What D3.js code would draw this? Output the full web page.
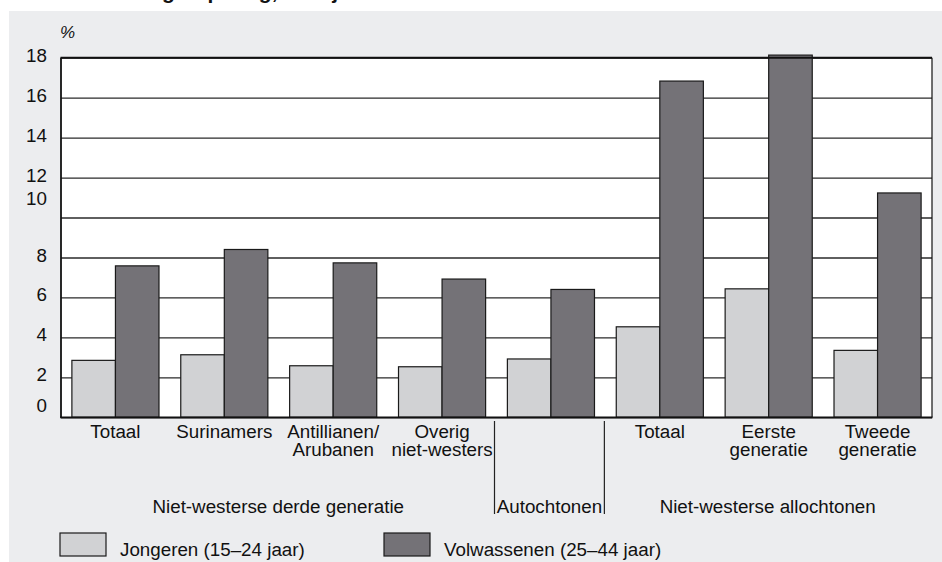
<!DOCTYPE html>
<html>
<head>
<meta charset="utf-8">
<script src="https://cdn.jsdelivr.net/npm/d3@7/dist/d3.min.js"></script>
<style>
	body { margin: 0; background: #fff; }
	svg { display: block; font-family: "Liberation Sans", Arial, Helvetica, sans-serif; }
</style>
</head>
<body>
<svg id="chart" width="942" height="562"></svg>
<script>

// Categories ('\n' = line break in the label).
var categories = [ 'Totaal', 'Surinamers', 'Antillianen/\nArubanen', 'Overig\nniet-westers', '', 'Totaal', 'Eerste\ngeneratie', 'Tweede\ngeneratie' ];

// Werkloosheid in %.
var jongeren = [ 2.85, 3.13, 2.58, 2.53, 2.92, 4.53, 6.43, 3.35 ];
var volwassenen = [ 7.58, 8.4, 7.73, 6.92, 6.4, 16.83, 18.13, 11.23 ];

var seriesNames = [ 'Jongeren (15\u201324 jaar)', 'Volwassenen (25\u201344 jaar)' ];

// Group labels under the categories, with first / last category index.
var groupLabels = [ 'Niet-westerse derde generatie', 'Autochtonen', 'Niet-westerse allochtonen' ];
var groupFirst = [ 0, 4, 5 ];
var groupLast = [ 3, 4, 7 ];

var yTicks = [ 0, 2, 4, 6, 8, 10, 12, 14, 16, 18 ];
var yUnit = '%';

var titleText = 'Werkloosheid naar herkomstgroepering, leeftijd';

var colors = [ '#d1d2d4', '#747277' ];

var viz = {
	plot: { left: 61, right: 932, top: 57.7, bottom: 417.3 },
	font: 18.8
};

var svg = d3.select( '#chart' );

// Grey panel behind the chart.
svg.append( 'rect' )
	.attr( 'x', 9 ).attr( 'y', 11 )
	.attr( 'width', 942 - 9 ).attr( 'height', 562 - 11 )
	.attr( 'fill', '#ecedef' );

// Title, cut off by the top of the picture: only descenders show.
var title = svg.append( 'text' )
	.attr( 'x', 0 ).attr( 'y', -1.5 )
	.attr( 'font-size', 21 ).attr( 'font-weight', 'bold' )
	.attr( 'fill', '#111' )
	.text( titleText );
var gIndex = titleText.indexOf( 'groep' );
title.attr( 'x', 162 - title.node().getStartPositionOfChar( gIndex ).x );

var x = d3.scaleBand()
	.domain( d3.range( categories.length ) )
	.range( [ viz.plot.left, viz.plot.right ] )
	.paddingInner( 0.2 )
	.paddingOuter( 0.1 );

var xs = d3.scaleBand()
	.domain( [ 0, 1 ] )
	.range( [ 0, x.bandwidth() ] );

var y = d3.scaleLinear()
	.domain( [ 0, 18 ] )
	.range( [ viz.plot.bottom, viz.plot.top ] );

// White plot area.
svg.append( 'rect' )
	.attr( 'x', viz.plot.left ).attr( 'y', viz.plot.top )
	.attr( 'width', viz.plot.right - viz.plot.left )
	.attr( 'height', viz.plot.bottom - viz.plot.top )
	.attr( 'fill', '#fff' );

// Gridlines + tick labels.
var axis = svg.append( 'g' )
	.attr( 'transform', 'translate(' + viz.plot.left + ',0)' )
	.call( d3.axisLeft( y )
		.tickValues( yTicks )
		.tickSize( -( viz.plot.right - viz.plot.left ) )
		.tickPadding( 14 )
		.tickFormat( d3.format( 'd' ) ) );
axis.select( '.domain' ).remove();
axis.selectAll( '.tick line' )
	.attr( 'stroke', '#2a2a2a' )
	.attr( 'stroke-width', 1.3 );
// The labels in the original are not all centred on their line.
var labelShift = { 10: -19, 0: -12 };
axis.selectAll( '.tick text' )
	.attr( 'font-size', viz.font )
	.attr( 'font-family', null )
	.attr( 'fill', '#111' )
	.attr( 'dy', function ( d ) {
		return ( 0.32 * viz.font + ( labelShift[d] !== undefined ? labelShift[d] : -2.5 ) ) + 'px';
	} );

svg.append( 'text' )
	.attr( 'x', viz.plot.left - 1 ).attr( 'y', 38 )
	.attr( 'font-size', 17 ).attr( 'font-style', 'italic' )
	.attr( 'fill', '#111' )
	.text( yUnit );

// Bars.
var barGroups = svg.selectAll( '.cat' )
	.data( categories )
	.enter()
	.append( 'g' )
	.attr( 'class', 'cat' )
	.attr( 'transform', function ( d, i ) {
		return 'translate(' + x( i ) + ',0)';
	} );

barGroups.selectAll( 'rect' )
	.data( function ( d, i ) {
		return [ jongeren[i], volwassenen[i] ];
	} )
	.enter()
	.append( 'rect' )
	.attr( 'x', function ( d, j ) { return xs( j ); } )
	.attr( 'y', function ( d ) { return y( d ); } )
	.attr( 'width', xs.bandwidth() )
	.attr( 'height', function ( d ) { return y( 0 ) - y( d ); } )
	.attr( 'fill', function ( d, j ) { return colors[j]; } )
	.attr( 'stroke', '#1a1a1a' )
	.attr( 'stroke-width', 1.2 );

// Frame: thick top, left and bottom, thin right.
svg.append( 'line' )
	.attr( 'x1', viz.plot.left - 0.5 ).attr( 'x2', viz.plot.right )
	.attr( 'y1', viz.plot.top ).attr( 'y2', viz.plot.top )
	.attr( 'stroke', '#111' ).attr( 'stroke-width', 2 );
svg.append( 'line' )
	.attr( 'x1', viz.plot.left ).attr( 'x2', viz.plot.left )
	.attr( 'y1', viz.plot.top ).attr( 'y2', viz.plot.bottom )
	.attr( 'stroke', '#111' ).attr( 'stroke-width', 1.8 );
svg.append( 'line' )
	.attr( 'x1', viz.plot.left - 0.9 ).attr( 'x2', viz.plot.right + 0.5 )
	.attr( 'y1', viz.plot.bottom ).attr( 'y2', viz.plot.bottom )
	.attr( 'stroke', '#111' ).attr( 'stroke-width', 1.8 );
svg.append( 'line' )
	.attr( 'x1', viz.plot.right ).attr( 'x2', viz.plot.right )
	.attr( 'y1', viz.plot.top ).attr( 'y2', viz.plot.bottom )
	.attr( 'stroke', '#111' ).attr( 'stroke-width', 1.2 );

// Category labels.
barGroups.append( 'text' )
	.attr( 'text-anchor', 'middle' )
	.attr( 'font-size', viz.font )
	.attr( 'fill', '#111' )
	.selectAll( 'tspan' )
	.data( function ( d ) { return d ? d.split( '\n' ) : []; } )
	.enter()
	.append( 'tspan' )
	.attr( 'x', x.bandwidth() / 2 )
	.attr( 'y', function ( d, k ) { return 438 + k * 18; } )
	.text( function ( d ) { return d; } );

// Group labels with separators.
var halfGap = x.step() * x.paddingInner() / 2;
function groupLeft( i ) {
	return groupFirst[i] === 0 ? viz.plot.left : x( groupFirst[i] ) - halfGap - 2;
}
function groupRight( i ) {
	return groupLast[i] === categories.length - 1 ? viz.plot.right : x( groupLast[i] ) + x.bandwidth() + halfGap - 1;
}

groupLabels.forEach( function ( label, i ) {
	svg.append( 'text' )
		.attr( 'x', ( groupLeft( i ) + groupRight( i ) ) / 2 )
		.attr( 'y', 513 )
		.attr( 'text-anchor', 'middle' )
		.attr( 'font-size', viz.font )
		.attr( 'fill', '#111' )
		.text( label );
	if ( i > 0 ) {
		var sx = i === 1 ? groupLeft( i ) : groupRight( i - 1 );
		svg.append( 'line' )
			.attr( 'x1', sx ).attr( 'x2', sx )
			.attr( 'y1', 421 ).attr( 'y2', 514 )
			.attr( 'stroke', '#222' ).attr( 'stroke-width', 1.2 );
	}
} );

// Legend.
var legendX = [ 60, 384 ];
seriesNames.forEach( function ( name, j ) {
	svg.append( 'rect' )
		.attr( 'x', legendX[j] ).attr( 'y', 533 )
		.attr( 'width', 46 ).attr( 'height', 23 )
		.attr( 'fill', colors[j] )
		.attr( 'stroke', '#1a1a1a' ).attr( 'stroke-width', 1.2 );
	svg.append( 'text' )
		.attr( 'x', legendX[j] + 60 ).attr( 'y', 556 )
		.attr( 'font-size', viz.font )
		.attr( 'fill', '#111' )
		.text( name );
} );

</script>
</body>
</html>
